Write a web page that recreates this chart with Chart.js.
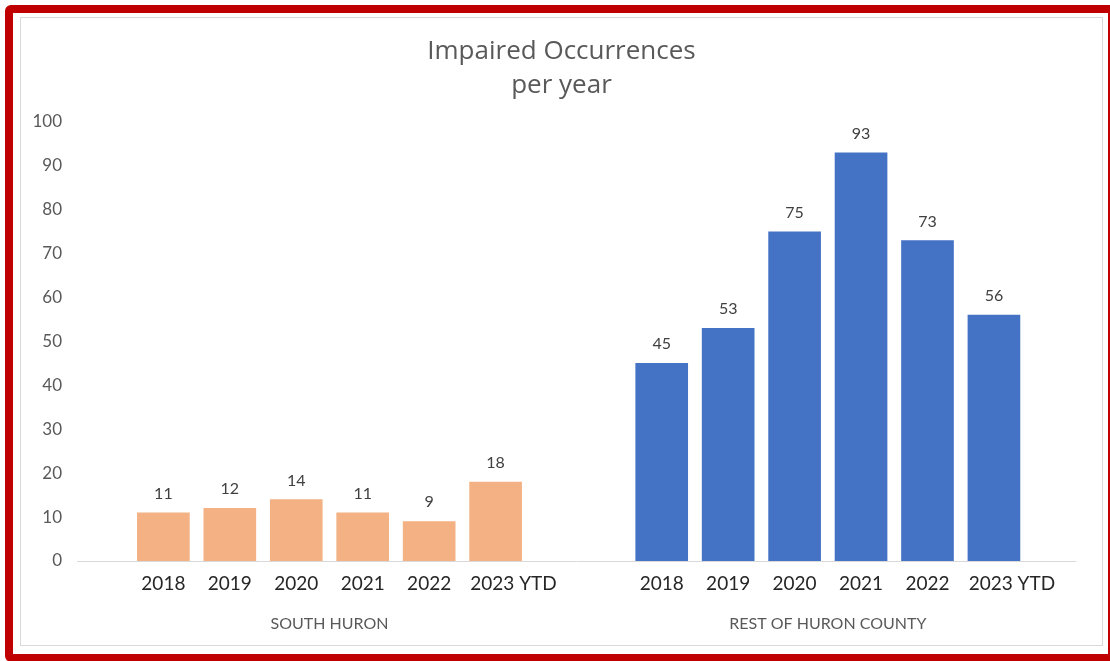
<!DOCTYPE html>
<html>
<head>
<meta charset="utf-8">
<script src="https://cdn.jsdelivr.net/npm/chart.js@4.4.0/dist/chart.umd.min.js"></script>
<style>
    html, body { margin: 0; padding: 0; background: #fff; width: 1110px; height: 661px; overflow: hidden; }
    .moldura {
        position: absolute; left: 5px; top: 5px; width: 1111px; height: 657px;
        box-sizing: border-box; border: 8px solid #c00000; border-radius: 6px; background: #fff;
    }
    .grafico {
        position: absolute; left: 20px; top: 17px; width: 1083px; height: 629px;
        box-sizing: border-box; border: 1px solid #d9d9d9; background: #fff;
    }
    canvas { display: block; }
</style>
</head>
<body>
<div class="moldura"></div>
<div class="grafico"><canvas id="graficoOcorrencias" width="1081" height="627"></canvas></div>
<script>
// Dados
const anos = ['2018', '2019', '2020', '2021', '2022', '2023 YTD'];
const grupos = ['SOUTH HURON', 'REST OF HURON COUNTY'];
const southHuron = [11, 12, 14, 11, 9, 18];
const restoHuron = [45, 53, 75, 93, 73, 56];
const yTicks = [0, 10, 20, 30, 40, 50, 60, 70, 80, 90, 100];

// deslocamento do segundo grupo no eixo x (em "slots")
const OFFSET_GRUPO = 7.5;
const X_MIN = -1.3;
const X_MAX = 13.72;
// o rotulo "2023 YTD" fica um pouco pra direita no original
const DESLOC_ULTIMO = 0.27;

const FONTE = "Lato, 'Open Sans', sans-serif";

const posSouth = anos.map((a, i) => i);
const posResto = anos.map((a, i) => i + OFFSET_GRUPO);
const posRotulos = posSouth.concat(posResto)
    .map((p, i) => (i % anos.length === anos.length - 1 ? p + DESLOC_ULTIMO : p));
const rotulosTodos = anos.concat(anos);
const posGrupos = [
    (posSouth[0] + posSouth[posSouth.length - 1]) / 2,
    (posResto[0] + posResto[posResto.length - 1]) / 2
];

// plugin simples pra escrever o valor em cima da barra
const rotulosBarras = {
    id: 'rotulosBarras',
    afterDatasetsDraw(chart) {
        const ctx = chart.ctx;
        ctx.save();
        ctx.font = `16px ${FONTE}`;
        ctx.fillStyle = '#404040';
        ctx.textAlign = 'center';
        ctx.textBaseline = 'alphabetic';
        chart.data.datasets.forEach((ds, di) => {
            chart.getDatasetMeta(di).data.forEach((bar, i) => {
                ctx.fillText(String(ds.data[i].y), bar.x, bar.y - 14);
            });
        });
        ctx.restore();
    }
};

const ctx = document.getElementById('graficoOcorrencias').getContext('2d');
new Chart(ctx, {
    type: 'bar',
    data: {
        datasets: [
            {
                label: grupos[0],
                data: southHuron.map((v, i) => ({ x: posSouth[i], y: v })),
                backgroundColor: '#f4b183',
                barThickness: 52,
                grouped: false
            },
            {
                label: grupos[1],
                data: restoHuron.map((v, i) => ({ x: posResto[i], y: v })),
                backgroundColor: '#4472c4',
                barThickness: 52,
                grouped: false
            }
        ]
    },
    plugins: [rotulosBarras],
    options: {
        responsive: false,
        animation: false,
        layout: { padding: { left: 0, right: 0, top: 0, bottom: 12 } },
        plugins: {
            legend: { display: false },
            tooltip: { enabled: false },
            title: {
                display: true,
                text: ['Impaired Occurrences', 'per year'],
                color: '#595959',
                font: { family: "'Open Sans', Lato, sans-serif", size: 26, weight: 'normal', lineHeight: '34px' },
                padding: { top: 17, bottom: 19 }
            }
        },
        scales: {
            x: {
                type: 'linear',
                position: 'bottom',
                weight: 0,
                offset: false,
                min: X_MIN,
                max: X_MAX,
                grid: { display: false, drawTicks: false },
                border: { display: true, color: '#d9d9d9', width: 1 },
                afterBuildTicks: (scale) => { scale.ticks = posRotulos.map(v => ({ value: v })); },
                afterFit: (scale) => { scale.height = 32; },
                ticks: {
                    autoSkip: false,
                    maxRotation: 0,
                    padding: 11,
                    color: '#262626',
                    font: { family: FONTE, size: 19 },
                    callback: (v, i) => rotulosTodos[i]
                }
            },
            xg: {
                type: 'linear',
                position: 'bottom',
                weight: 1,
                offset: false,
                min: X_MIN,
                max: X_MAX,
                grid: { display: false, drawTicks: false },
                border: { display: false },
                afterBuildTicks: (scale) => { scale.ticks = posGrupos.map(v => ({ value: v })); },
                afterFit: (scale) => { scale.height = 40; },
                ticks: {
                    autoSkip: false,
                    maxRotation: 0,
                    padding: 21,
                    color: '#595959',
                    font: { family: FONTE, size: 16 },
                    callback: (v, i) => grupos[i]
                }
            },
            y: {
                min: 0,
                max: 100,
                grid: { display: false, drawTicks: false },
                border: { display: false },
                afterBuildTicks: (scale) => { scale.ticks = yTicks.map(v => ({ value: v })); },
                afterFit: (scale) => { scale.width = 56; },
                ticks: {
                    padding: 15,
                    color: '#595959',
                    font: { family: FONTE, size: 17 }
                }
            },
            // eixo vazio so pra reservar a margem direita
            yDir: {
                type: 'linear',
                position: 'right',
                display: true,
                grid: { display: false, drawTicks: false },
                border: { display: false },
                ticks: { display: false },
                afterFit: (scale) => { scale.width = 27; }
            }
        }
    }
});
</script>
</body>
</html>
